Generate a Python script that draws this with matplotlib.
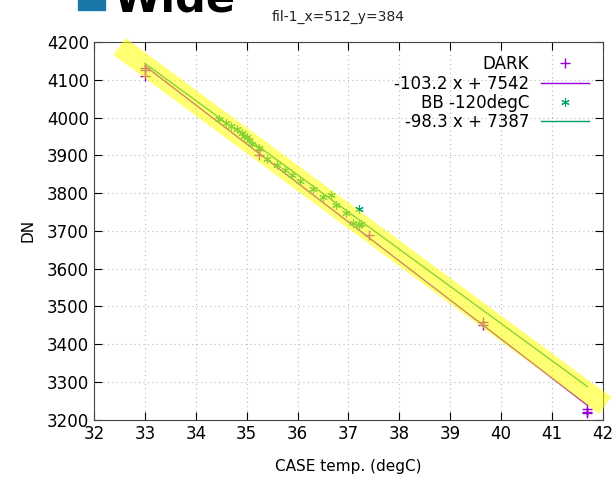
import numpy as np
import matplotlib.pyplot as plt

# DARK frames
dark_t = [33.0, 33.0, 33.0, 35.25, 35.25, 37.4, 39.65, 39.65, 41.7, 41.7, 41.7]
dark_dn = [4110, 4125, 4130, 3915, 3900, 3690, 3460, 3450, 3218, 3222, 3228]
dark_fit = (-103.2, 7542)

# BB -120degC frames
bb_t = [34.45, 34.6, 34.7, 34.8, 34.9, 34.95, 35.0, 35.05, 35.1, 35.25, 35.4,
        35.6, 35.75, 35.9, 36.05, 36.3, 36.5, 36.65, 36.75, 36.95, 37.1, 37.2, 37.2, 37.25]
bb_dn = [3995, 3985, 3978, 3970, 3958, 3952, 3948, 3940, 3930, 3918, 3890,
         3875, 3862, 3848, 3832, 3812, 3790, 3795, 3768, 3748, 3722, 3757, 3715, 3718]
bb_fit = (-98.3, 7387)

fit_range = [33.0, 41.7]
band_t = [32.5, 42.05]
band_dn = [4188, 3238]

purple = '#9400d3'
green = '#009e73'

fig = plt.figure(figsize=(6.15, 4.82), dpi=100)
ax = fig.add_axes([0.153, 0.129, 0.827, 0.784])

# header fragments from the slide
fig.patches.append(plt.Rectangle((78 / 615, 1 - 10 / 482), 27 / 615, 12 / 482,
                                 transform=fig.transFigure, color='#1a78a8', zorder=5))
fig.text(114 / 615, 1 - 11 / 482, 'Wide', fontsize=31, fontweight='bold', va='baseline')
fig.text(272 / 615, 1 - 21 / 482, 'fil-1_x=512_y=384', fontsize=10, color='#222222')

xf = np.array(fit_range)
ax.plot(dark_t, dark_dn, '+', color=purple, ms=7, mew=1, label='DARK')
ax.plot(xf, dark_fit[0] * xf + dark_fit[1], '-', color=purple, lw=1,
        label='%.1f x + %d' % dark_fit)
ax.plot(bb_t, bb_dn, color=green, ms=6, mew=0.8, mfc='none', mec=green,
        marker=(6, 2, 0), linestyle='none', label='BB -120degC')
ax.plot(xf, bb_fit[0] * xf + bb_fit[1], '-', color=green, lw=1,
        label='%.1f x + %d' % bb_fit)

# yellow highlighter stroke
ax.plot(band_t, band_dn, '-', color='#ffff00', alpha=0.55, lw=15,
        solid_capstyle='butt', zorder=10, clip_on=False)

ax.set_xlim(32, 42)
ax.set_ylim(3200, 4200)
ax.set_xticks(np.arange(32, 43, 1))
ax.set_yticks(np.arange(3200, 4201, 100))
ax.tick_params(direction='in', top=True, right=True, labelsize=12, length=6)
ax.grid(True, linestyle=(0, (1, 3)), color='#bbbbbb', lw=0.8)
for s in ax.spines.values():
    s.set_color('#444444')
ax.set_xlabel('CASE temp. (degC)', fontsize=11, labelpad=12)
ax.set_ylabel('DN', fontsize=11, labelpad=8)

ax.legend(loc='upper right', frameon=False, markerfirst=False, fontsize=12,
          handlelength=2.9, borderaxespad=0.4, labelspacing=0.08, handletextpad=0.7)

fig.savefig('out.png', dpi=100)
